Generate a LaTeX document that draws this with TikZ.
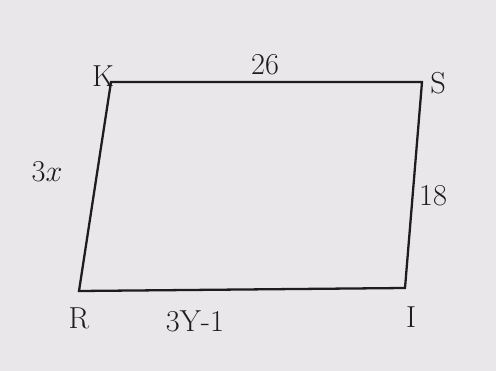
\documentclass[tikz,border=0pt]{standalone}
\usepackage{tikz}
\usetikzlibrary{calc}

\definecolor{paper}{RGB}{234,231,234}
\definecolor{ink}{RGB}{30,28,32}

\begin{document}
\begin{tikzpicture}[x=0.02cm, y=-0.02cm,
  lbl/.style={ink, font=\LARGE}]

% Paper
\fill[paper] (0,0) rectangle (496,371);
\useasboundingbox (0,0) rectangle (496,371);

% Corners
\coordinate (K) at (111,82);
\coordinate (S) at (422,82);
\coordinate (I) at (405,288);
\coordinate (R) at (79,291);

% Parallelogram
\draw[ink, line width=1.3pt] (K)--(S)--(I)--(R)--cycle;

% Corner labels
\node[lbl] (lK) at (103,76) {K};
\node[lbl] (lS) at (438,83) {S};
\node[lbl] (lI) at (411,317) {I};
\node[lbl] (lR) at (79,318) {R};

% Side lengths
\node[lbl] (top) at (265,65) {26};
\node[lbl] (left) at (47,172) {$3x$};
\node[lbl] (right) at (433,196) {18};
\node[lbl] (bottom) at (195,321) {3Y-1};

\end{tikzpicture}
\end{document}
